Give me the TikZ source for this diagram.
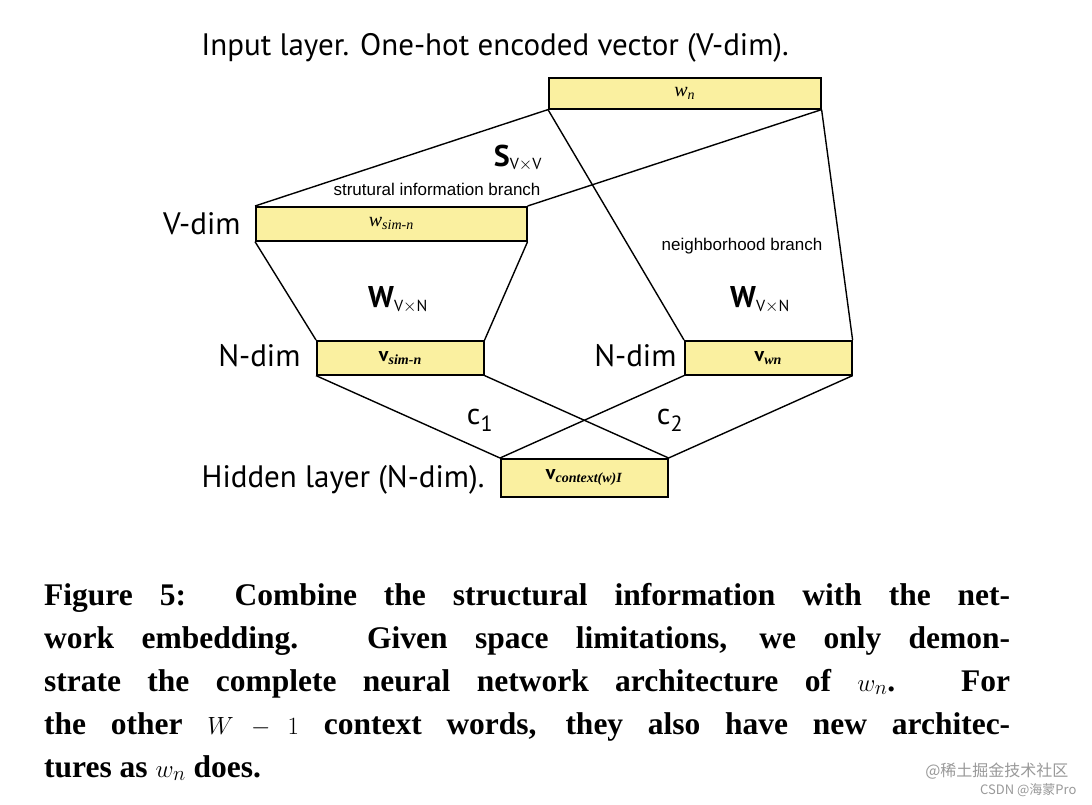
\documentclass[tikz,border=0pt]{standalone}
\usepackage{amsmath}
\usepackage{fontspec}
\setmainfont{Liberation Serif}
\newfontfamily\dsans{PT Sans}
\newfontfamily\asans{Liberation Sans}
\newfontfamily\cjk{Noto Sans CJK SC}
\definecolor{boxy}{HTML}{FAF0A0}
\begin{document}
\begin{tikzpicture}[x=1pt,y=-1pt,
 bx/.style={draw,line width=1.6pt,fill=boxy,inner sep=0pt,anchor=north west},
 lbl/.style={font=\dsans\fontsize{31}{36}\selectfont},
 sm/.style={font=\asans\fontsize{17}{20}\selectfont},
 mat/.style={font=\dsans\fontsize{30}{34}\selectfont},
 captxt/.style={anchor=base west,inner sep=0pt,font=\bfseries\fontsize{31.5}{36}\selectfont},
 ln/.style={line width=1.4pt}]
\useasboundingbox (0,0) rectangle (1092,804);
\fill[white] (0,0) rectangle (1092,804);
\node[bx,minimum width=272pt,minimum height=31pt] (wn) at (548,77) {\fontsize{20}{22}\selectfont\textit{w}$_{\textit{n}}$};
\node[bx,minimum width=271pt,minimum height=34pt] (ws) at (255,206) {\fontsize{20}{22}\selectfont\textit{w}$_{\textit{sim-n}}$};
\node[bx,minimum width=167pt,minimum height=34pt] (vs) at (316,340) {\fontsize{20}{22}\selectfont\textbf{\dsans v}$_{\textbf{\textit{sim-n}}}$};
\node[bx,minimum width=167pt,minimum height=34pt] (vw) at (684,340) {\fontsize{20}{22}\selectfont\textbf{\dsans v}$_{\textbf{\textit{wn}}}$};
\node[bx,minimum width=167pt,minimum height=38pt] (vc) at (500,458) {\fontsize{20}{22}\selectfont\textbf{\dsans v}$_{\textbf{\textit{context(w)I}}}$};
\draw[ln] (wn.south west) -- (ws.north west);
\draw[ln] (wn.south east) -- (ws.north east);
\draw[ln] (wn.south west) -- (vw.north west);
\draw[ln] (wn.south east) -- (vw.north east);
\draw[ln] (ws.south west) -- (vs.north west);
\draw[ln] (ws.south east) -- (vs.north east);
\draw[ln] (vs.south west) -- (vc.north west);
\draw[ln] (vs.south east) -- (vc.north east);
\draw[ln] (vw.south west) -- (vc.north west);
\draw[ln] (vw.south east) -- (vc.north east);
\node[lbl] (t1) at (495,48) {Input layer. One-hot encoded vector (V-dim).};
\node[lbl,anchor=east] (t2) at (244,224) {V-dim};
\node[lbl,anchor=east] (t3) at (304,356) {N-dim};
\node[lbl,anchor=east] (t4) at (680,356) {N-dim};
\node[lbl,anchor=east] (t5) at (488,480) {Hidden layer (N-dim).};
\node[mat] (s) at (518,158) {\textbf{S}$_{\hbox{\dsans\fontsize{16}{18}\selectfont V$\times$V}}$};
\node[sm] (sb) at (437,189) {strutural information branch};
\node[sm] (nb) at (742,246) {neighborhood branch};
\node[mat] (w1) at (398,300) {\textbf{W}$_{\hbox{\dsans\fontsize{16}{18}\selectfont V$\times$N}}$};
\node[mat] (w2) at (760,300) {\textbf{W}$_{\hbox{\dsans\fontsize{16}{18}\selectfont V$\times$N}}$};
\node[mat] (c1) at (480,420) {c$_{\hbox{\dsans\fontsize{22}{24}\selectfont 1}}$};
\node[mat] (c2) at (670,420) {c$_{\hbox{\dsans\fontsize{22}{24}\selectfont 2}}$};
\node[captxt] (l1) at (44,605) {\makebox[966pt][s]{Figure 5: Combine the structural information with the net-}};
\node[captxt] (l2) at (44,648) {\makebox[966pt][s]{work embedding. Given space limitations, we only demon-}};
\node[captxt] (l3) at (44,691) {\makebox[966pt][s]{strate the complete neural network architecture of $w_n$. For}};
\node[captxt] (l4) at (44,734) {\makebox[966pt][s]{the other $W-1$ context words, they also have new architec-}};
\node[captxt] (l5) at (44,777) {tures as $w_n$ does.};
\node[anchor=east,text=black!40,font=\cjk\fontsize{16}{18}\selectfont] (wm1) at (1072,771) {@稀土掘金技术社区};
\node[anchor=east,text=black!40,font=\cjk\fontsize{13}{15}\selectfont] (wm2) at (1080,790) {CSDN @海蒙Pro};
\end{tikzpicture}
\end{document}
